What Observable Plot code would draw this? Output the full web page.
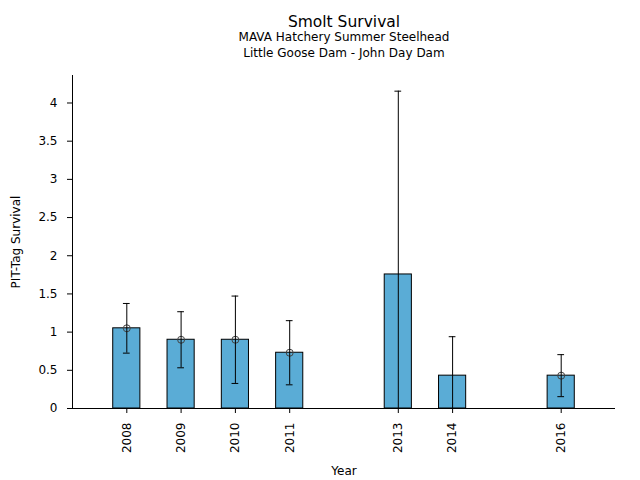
<!DOCTYPE html>
<html>
<head>
<meta charset="utf-8">
<script src="https://cdn.jsdelivr.net/npm/d3@7"></script>
<script src="https://cdn.jsdelivr.net/npm/@observablehq/plot@0.6"></script>
<style>
  body { margin: 0; background: #fff; }
  #chart svg { display: block; }
</style>
</head>
<body>
<div id="chart"></div>
<script>
// Data
const years = [2008, 2009, 2010, 2011, 2013, 2014, 2016];
const survival = [1.05, 0.90, 0.90, 0.73, 1.755, 0.43, 0.43];
const errorHalf = [0.325, 0.367, 0.572, 0.42, 2.40, 0.51, 0.275];
const pointYears = [2008, 2009, 2010, 2011, 2016];
const pointValues = [1.05, 0.90, 0.90, 0.73, 0.43];
const yTicks = [0, 0.5, 1, 1.5, 2, 2.5, 3, 3.5, 4];
const xDomain = [2007, 2017];
const yDomain = [0, 4.36];
const titleLines = ["Smolt Survival", "MAVA Hatchery Summer Steelhead", "Little Goose Dam - John Day Dam"];

const rows = years.map((y, i) => ({year: y, value: survival[i], lo: survival[i] - errorHalf[i], hi: survival[i] + errorHalf[i]}));
const pts = pointYears.map((y, i) => ({year: y, value: pointValues[i]}));
const barHalf = 0.25, capHalf = 0.062;

const chart = Plot.plot({
  width: 640,
  height: 480,
  marginTop: 75,
  marginBottom: 72,
  marginLeft: 72,
  marginRight: 25,
  style: {fontFamily: "DejaVu Sans", fontSize: "12px", color: "#000", background: "#fff"},
  x: {domain: xDomain, ticks: years, tickFormat: d => String(d), tickRotate: -90, tickSize: 5, tickPadding: 9,
      label: "Year", labelAnchor: "center", labelArrow: "none", labelOffset: 66},
  y: {domain: yDomain, ticks: yTicks, tickFormat: d => String(d), tickSize: 5, tickPadding: 10,
      label: "PIT-Tag Survival", labelAnchor: "center", labelArrow: "none", labelOffset: 61},
  marks: [
    Plot.rectY(rows, {x1: d => d.year - barHalf, x2: d => d.year + barHalf, y1: 0, y2: "value",
      fill: "#5aacd6", stroke: "#000", strokeWidth: 1}),
    Plot.dot(pts, {x: "year", y: "value", r: 3.5, stroke: "#444", strokeWidth: 1, fill: "none"}),
    Plot.ruleX(rows, {x: "year", y1: "lo", y2: "hi", stroke: "#000", strokeWidth: 1, clip: true}),
    Plot.ruleY(rows, {y: "hi", x1: d => d.year - capHalf, x2: d => d.year + capHalf, stroke: "#000", strokeWidth: 1, clip: true}),
    Plot.ruleY(rows.filter(d => d.lo >= 0), {y: "lo", x1: d => d.year - capHalf, x2: d => d.year + capHalf, stroke: "#000", strokeWidth: 1}),
    Plot.ruleY([yDomain[0]], {stroke: "#000", strokeWidth: 1}),
    Plot.ruleX([xDomain[0]], {stroke: "#000", strokeWidth: 1}),
    Plot.text([titleLines[0]], {text: d => d, frameAnchor: "top", lineAnchor: "middle", dy: -53, fontSize: 15.5, fill: "#000"}),
    Plot.text([titleLines[1]], {text: d => d, frameAnchor: "top", lineAnchor: "middle", dy: -38.5, fontSize: 12, fill: "#000"}),
    Plot.text([titleLines[2]], {text: d => d, frameAnchor: "top", lineAnchor: "middle", dy: -22.5, fontSize: 12, fill: "#000"})
  ]
});
document.getElementById("chart").appendChild(chart);
</script>
</body>
</html>
